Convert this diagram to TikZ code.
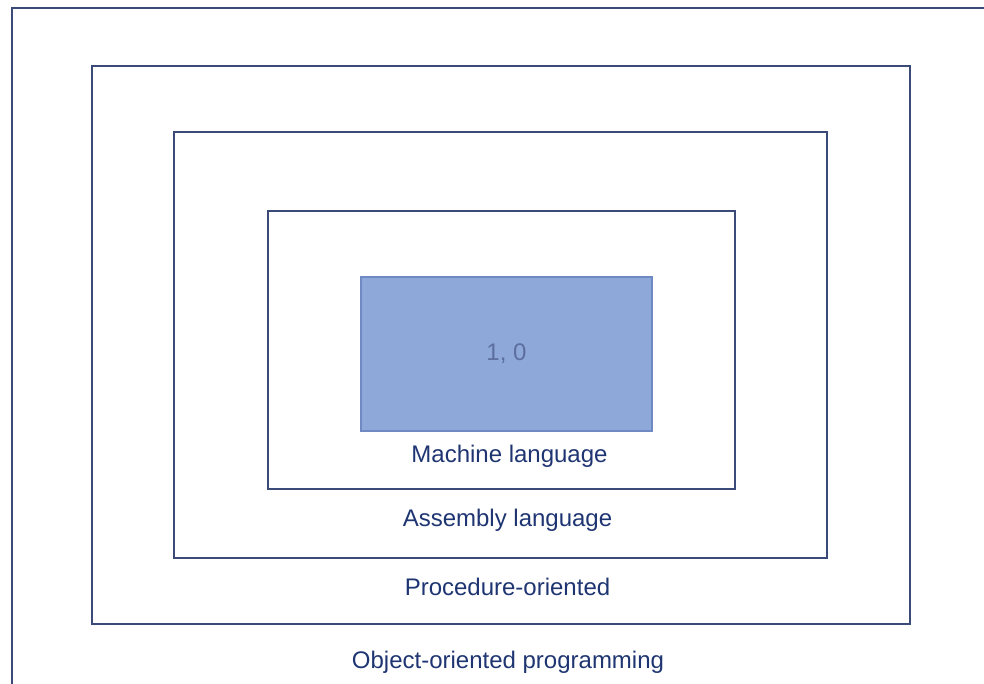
\documentclass[tikz,border=0pt]{standalone}
\usepackage{fontspec}
\setmainfont{Liberation Sans}
\usepackage{xcolor}
\usetikzlibrary{positioning}

\definecolor{framecol}{HTML}{3C4A78}
\definecolor{textcol}{HTML}{1E3572}
\definecolor{bitfill}{HTML}{8EA8D9}
\definecolor{bitdraw}{HTML}{6F8AC2}
\definecolor{bittext}{HTML}{5C6F9E}

\begin{document}
\begin{tikzpicture}[
    x=1pt, y=-1pt,
    layer/.style={rectangle, draw=framecol, line width=1.6pt, inner sep=0pt},
    core/.style={rectangle, draw=bitdraw, fill=bitfill, line width=1.2pt, inner sep=0pt},
    caption/.style={inner sep=0pt, text=textcol, text height=17pt, text depth=5pt,
        font=\fontsize{24}{28}\selectfont}
]
\useasboundingbox (0,0) rectangle (984,684);
\clip (0,0) rectangle (984,684);

% Layers
\node[layer, minimum width=988pt, minimum height=692pt] (frame) at (506,354) {};
\node[layer, minimum width=818pt, minimum height=558pt] (oop) at (501,345) {};
\node[layer, minimum width=653pt, minimum height=426pt] (proc) at (500.5,345) {};
\node[layer, minimum width=467pt, minimum height=278pt] (asm) at (501.5,350) {};
\node[core, minimum width=291pt, minimum height=154pt, text=bittext,
      font=\fontsize{24}{28}\selectfont] (mach) at (506.5,354) {1, 0};

% Labels
\node[caption, below=14pt of mach, xshift=3pt] (machlabel) {Machine language};
\node[caption, below=19pt of asm, xshift=6pt] (asmlabel) {Assembly language};
\node[caption, below=19pt of proc, xshift=7pt] (proclabel) {Procedure-oriented};
\node[caption, below=26pt of oop, xshift=7pt] (ooplabel) {Object-oriented programming};

\end{tikzpicture}
\end{document}
